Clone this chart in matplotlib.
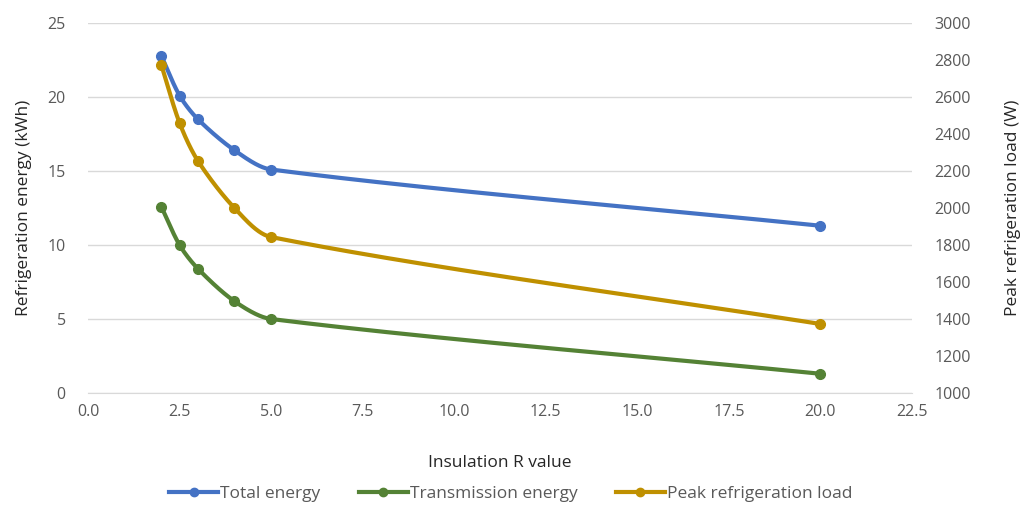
import numpy as np
import matplotlib.pyplot as plt
from matplotlib.lines import Line2D

# Insulation R value vs refrigeration energy / peak load
r_value = [2.0, 2.5, 3.0, 4.0, 5.0, 20.0]
total_energy = [22.8, 20.1, 18.5, 16.4, 15.1, 11.3]
transmission_energy = [12.6, 10.0, 8.4, 6.2, 5.0, 1.3]
peak_load = [2775, 2460, 2255, 2000, 1843, 1373]

BLUE = '#4472C4'
GREEN = '#548235'
GOLD = '#BF9000'
TEXT = '#595959'

plt.rcParams['font.family'] = ['Open Sans', 'DejaVu Sans']


def smooth(x, y, sx, sy, k=0.3, n=60):
    # bezier through the points; tangents from the neighbours, handle lengths
    # scaled by each segment's on-screen length so short steps don't overshoot
    p = np.column_stack([np.asarray(x, float) * sx, np.asarray(y, float) * sy])
    npt = len(p)
    tan = np.zeros_like(p)
    for i in range(npt):
        a = p[max(i - 1, 0)]
        b = p[min(i + 1, npt - 1)]
        v = b - a
        tan[i] = v / np.hypot(*v)
    t = np.linspace(0, 1, n)[:, None]
    pts = []
    for i in range(npt - 1):
        L = np.hypot(*(p[i + 1] - p[i]))
        c1 = p[i] + tan[i] * L * k
        c2 = p[i + 1] - tan[i + 1] * L * k
        seg = (1 - t) ** 3 * p[i] + 3 * (1 - t) ** 2 * t * c1 + 3 * (1 - t) * t ** 2 * c2 + t ** 3 * p[i + 1]
        pts.append(seg)
    pts = np.vstack(pts)
    return pts[:, 0] / sx, pts[:, 1] / sy


fig = plt.figure(figsize=(10.22, 5.09), dpi=100)
ax = fig.add_axes([88 / 1022, 1 - 393 / 509, 824 / 1022, 370 / 509])
ax2 = ax.twinx()

ax.set_xlim(0, 22.5)
ax.set_ylim(0, 25)
ax2.set_ylim(1000, 3000)
px_x = 824 / 22.5
series = [(total_energy, BLUE, ax, 370 / 25),
          (transmission_energy, GREEN, ax, 370 / 25),
          (peak_load, GOLD, ax2, 370 / 2000)]
for ys, col, a, px_y in series:
    cx, cy = smooth(r_value, ys, px_x, px_y)
    a.plot(cx, cy, color=col, lw=3, solid_capstyle='round', zorder=3)
    a.plot(r_value, ys, 'o', color=col, ms=7, zorder=4)

ax.set_xticks(np.arange(0, 22.6, 2.5))
ax.set_xticklabels([f'{v:.1f}' for v in np.arange(0, 22.6, 2.5)])
ax.set_yticks(range(0, 26, 5))
ax2.set_yticks(range(1000, 3001, 200))

ax.grid(axis='y', color='#D9D9D9', lw=1)
ax.set_axisbelow(True)
for a in (ax, ax2):
    for s in a.spines.values():
        s.set_visible(False)
    a.tick_params(length=0, labelsize=11.5, colors=TEXT)
ax.spines['bottom'].set_visible(True)
ax.spines['bottom'].set_color('#D9D9D9')
ax.tick_params(axis='x', pad=8)
ax.tick_params(axis='y', pad=16)
ax2.tick_params(axis='y', pad=16)

ax.set_xlabel('Insulation R value', fontsize=12.5, color='#262626', labelpad=25)
ax.set_ylabel('Refrigeration energy (kWh)', fontsize=12.5, color='#262626', labelpad=11)
ax2.set_ylabel('Peak refrigeration load (W)', fontsize=12.5, color='#262626', labelpad=25)

handles = [Line2D([], [], color=c, lw=3, marker='o', ms=6) for c in (BLUE, GREEN, GOLD)]
fig.legend(handles, ['Total energy', 'Transmission energy', 'Peak refrigeration load'],
           loc='center', bbox_to_anchor=(0.5, 1 - 494 / 509), ncol=3, frameon=False,
           fontsize=12.5, labelcolor=TEXT, handlelength=2.8, columnspacing=2.2, handletextpad=0.15)

fig.savefig('out.png', dpi=100)
